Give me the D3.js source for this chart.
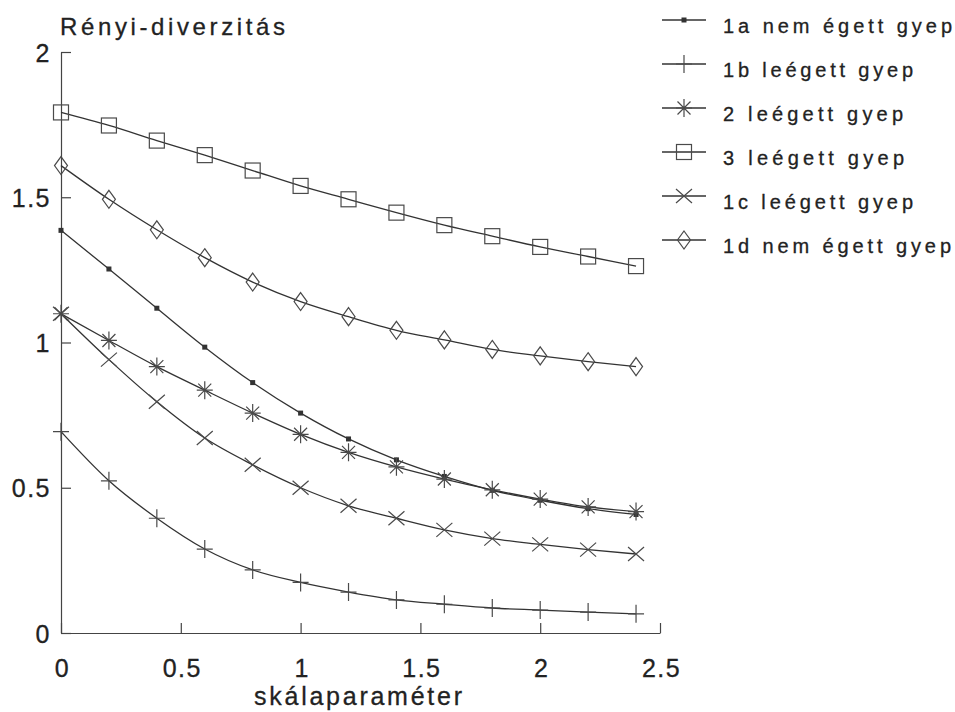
<!DOCTYPE html>
<html><head><meta charset="utf-8">
<script src="https://cdn.jsdelivr.net/npm/d3@7"></script>
<style>
html,body{margin:0;padding:0;background:#fff;}
svg{display:block;font-family:"Liberation Sans",Arial,Helvetica,sans-serif;}
</style></head>
<body>
<svg id="chart" width="955" height="712"></svg>
<script>
const xValues = [0, 0.2, 0.4, 0.6, 0.8, 1.0, 1.2, 1.4, 1.6, 1.8, 2.0, 2.2, 2.4];
const s1a = [1.386, 1.253, 1.118, 0.984, 0.862, 0.757, 0.668, 0.596, 0.539, 0.491, 0.457, 0.428, 0.408];
const s1b = [0.693, 0.524, 0.395, 0.289, 0.217, 0.174, 0.141, 0.114, 0.099, 0.086, 0.079, 0.072, 0.066];
const s2  = [1.099, 1.007, 0.917, 0.836, 0.757, 0.684, 0.622, 0.572, 0.530, 0.493, 0.461, 0.434, 0.418];
const s3  = [1.792, 1.747, 1.695, 1.645, 1.592, 1.539, 1.493, 1.447, 1.404, 1.366, 1.329, 1.296, 1.263];
const s1c = [1.099, 0.941, 0.796, 0.671, 0.579, 0.500, 0.438, 0.395, 0.355, 0.325, 0.305, 0.287, 0.272];
const s1d = [1.609, 1.493, 1.388, 1.292, 1.208, 1.141, 1.089, 1.042, 1.009, 0.976, 0.954, 0.934, 0.917];
const seriesNames = ["1a nem égett gyep", "1b leégett gyep", "2 leégett gyep", "3 leégett gyep", "1c leégett gyep", "1d nem égett gyep"];
const seriesMarkers = ["dot", "plus", "asterisk", "square", "cross", "diamond"];
const xTicks = [0, 0.5, 1, 1.5, 2, 2.5];
const yTicks = [0, 0.5, 1, 1.5, 2];
const yTitle = "Rényi-diverzitás";
const xTitle = "skálaparaméter";

const allSeries = [s1a, s1b, s2, s3, s1c, s1d];
const legendWidths = [229, 190, 180, 181, 190, 228];

const svg = d3.select("#chart");
const ink = "#222";
const x = d3.scaleLinear().domain([0, 2.5]).range([61, 660]);
const y = d3.scaleLinear().domain([0, 2]).range([633, 52]);

// axes
const yAxis = svg.append("g").attr("transform", "translate(61,0)")
  .call(d3.axisLeft(y).tickValues(yTicks).tickFormat(d3.format("")).tickSizeInner(-10).tickSizeOuter(0).tickPadding(10));
const xAxis = svg.append("g").attr("transform", "translate(0,633)")
  .call(d3.axisBottom(x).tickValues(xTicks).tickFormat(d3.format("")).tickSizeInner(-10).tickSizeOuter(0).tickPadding(26));
[yAxis, xAxis].forEach(a => {
  a.selectAll("path,line").attr("stroke", "#444").attr("stroke-width", 1.2);
  a.selectAll("text").attr("fill", ink).attr("stroke", ink).attr("stroke-width", 0.3).style("font-size", "25px")
    .style("letter-spacing", "1.5px").style("font-family", "'Liberation Sans',Arial,sans-serif");
});
yAxis.selectAll(".tick text").attr("dy", "0.36em");
xAxis.selectAll(".tick text").attr("dx", "1px");

svg.append("text").attr("x", 60).attr("y", 35).attr("fill", ink).attr("stroke", ink).attr("stroke-width", 0.3)
  .style("font-size", "24px").attr("textLength", 225).attr("lengthAdjust", "spacing").text(yTitle);
svg.append("text").attr("x", 254).attr("y", 705).attr("fill", ink).attr("stroke", ink).attr("stroke-width", 0.3)
  .style("font-size", "25px").attr("textLength", 208).attr("lengthAdjust", "spacing").text(xTitle);

function marker(g, type) {
  const st = "#4a4a4a";
  if (type === "dot") {
    g.append("rect").attr("x", -2.5).attr("y", -2.5).attr("width", 5).attr("height", 5).attr("fill", "#333");
  } else if (type === "plus") {
    g.append("path").attr("d", "M-8,0H8M0,-9V9").attr("stroke", st).attr("stroke-width", 1.2).attr("fill", "none");
  } else if (type === "asterisk") {
    g.append("path").attr("d", "M-8,0H8M0,-9V9M-6.5,-6.5L6.5,6.5M-6.5,6.5L6.5,-6.5").attr("stroke", st).attr("stroke-width", 1.2).attr("fill", "none");
  } else if (type === "square") {
    g.append("rect").attr("x", -7.5).attr("y", -7.5).attr("width", 15).attr("height", 15).attr("stroke", st).attr("stroke-width", 1.2).attr("fill", "none");
  } else if (type === "cross") {
    g.append("path").attr("d", "M-8,-7L8,7M-8,7L8,-7").attr("stroke", st).attr("stroke-width", 1.2).attr("fill", "none");
  } else if (type === "diamond") {
    g.append("path").attr("d", "M0,-9L6.5,0L0,9L-6.5,0Z").attr("stroke", st).attr("stroke-width", 1.2).attr("fill", "none");
  }
}

const line = d3.line().x(d => x(d[0])).y(d => y(d[1])).curve(d3.curveMonotoneX);
allSeries.forEach((vals, i) => {
  const pts = xValues.map((xv, j) => [xv, vals[j]]);
  svg.append("path").datum(pts).attr("d", line).attr("fill", "none").attr("stroke", "#333").attr("stroke-width", 1.3);
  const mg = svg.append("g");
  pts.forEach(p => {
    marker(mg.append("g").attr("transform", `translate(${x(p[0])},${y(p[1])})`), seriesMarkers[i]);
  });
});

// legend
seriesNames.forEach((name, i) => {
  const ly = 20 + i * 44;
  const g = svg.append("g").attr("transform", `translate(0,${ly})`);
  g.append("line").attr("x1", 662).attr("x2", 706).attr("y1", 0).attr("y2", 0).attr("stroke", "#333").attr("stroke-width", 1.3);
  marker(g.append("g").attr("transform", "translate(684,0)"), seriesMarkers[i]);
  g.append("text").attr("x", 723).attr("y", 13).attr("fill", ink).attr("stroke", ink).attr("stroke-width", 0.3)
    .style("font-size", "20px").attr("textLength", legendWidths[i]).attr("lengthAdjust", "spacing").text(name);
});
</script>
</body></html>
